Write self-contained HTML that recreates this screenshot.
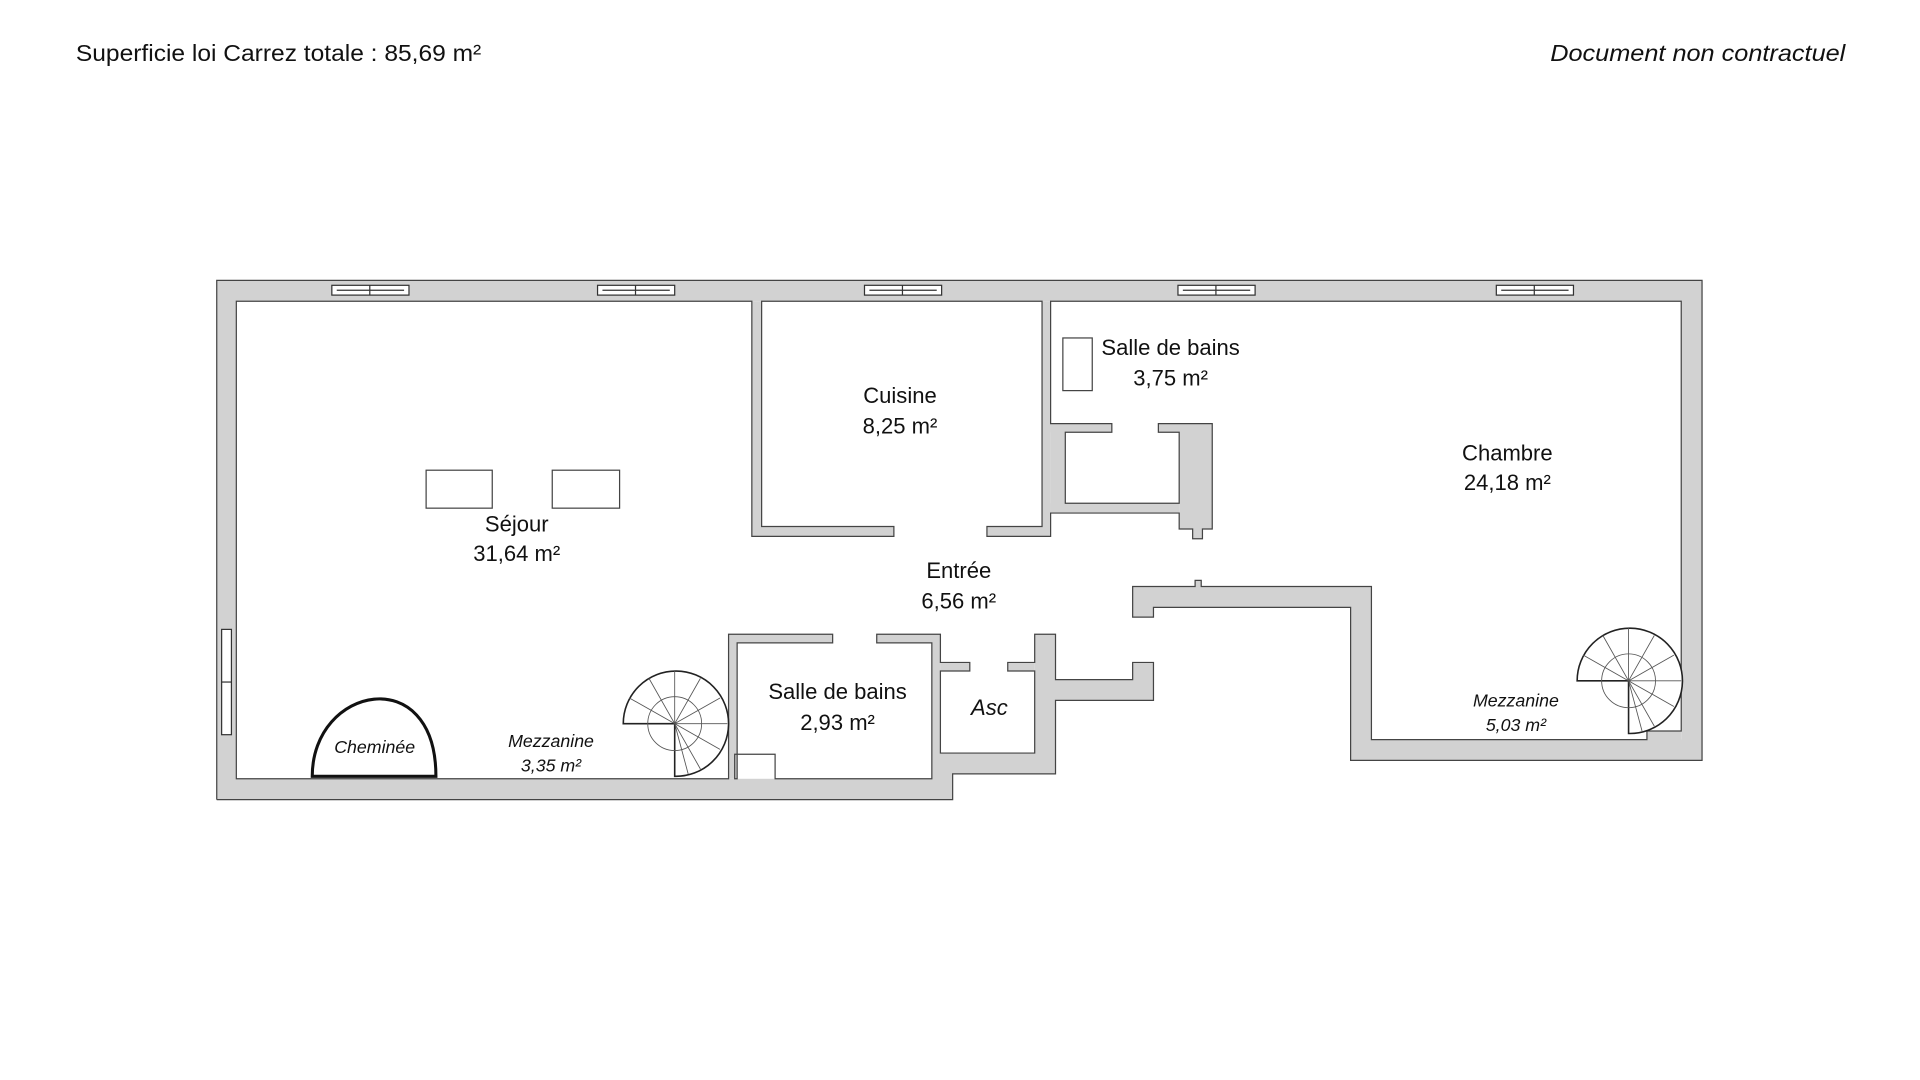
<!DOCTYPE html>
<html><head><meta charset="utf-8"><style>
html,body{margin:0;padding:0;background:#fff;}
svg{display:block;}
text{font-family:"Liberation Sans",sans-serif;fill:#111;}
</style></head><body>
<svg width="1920" height="1080" viewBox="0 0 1568 882" xmlns="http://www.w3.org/2000/svg">
<text x="62" y="50" font-size="19" textLength="331" lengthAdjust="spacingAndGlyphs">Superficie loi Carrez totale : 85,69 m²</text>
<text x="1266" y="50" font-size="19" font-style="italic" textLength="241" lengthAdjust="spacingAndGlyphs">Document non contractuel</text>
<g fill="#d2d2d2" stroke="none">
<rect x="177" y="229" width="1213" height="17"/>
<rect x="177" y="229" width="16" height="424"/>
<rect x="1373" y="229" width="17" height="392"/>
<rect x="177" y="636" width="601" height="17"/>
<rect x="761" y="615" width="101" height="17"/>
<rect x="761" y="615" width="17" height="38"/>
<rect x="845" y="518" width="17" height="114"/>
<rect x="862" y="555" width="80" height="17"/>
<rect x="925" y="541" width="17" height="31"/>
<rect x="768" y="541" width="24" height="7"/>
<rect x="823" y="541" width="22" height="7"/>
<rect x="595" y="518" width="7" height="118"/>
<rect x="595" y="518" width="85" height="7"/>
<rect x="716" y="518" width="52" height="7"/>
<rect x="761" y="518" width="7" height="100"/>
<rect x="614" y="246" width="8" height="192"/>
<rect x="614" y="430" width="116" height="8"/>
<rect x="806" y="430" width="52" height="8"/>
<rect x="851" y="246" width="7" height="192"/>
<rect x="858" y="346" width="50" height="7"/>
<rect x="946" y="346" width="44" height="7"/>
<rect x="858" y="346" width="12" height="73"/>
<rect x="858" y="411" width="105" height="8"/>
<rect x="963" y="346" width="27" height="86"/>
<rect x="974" y="430" width="8" height="10"/>
<rect x="925" y="479" width="195" height="17"/>
<rect x="925" y="479" width="17" height="25"/>
<rect x="976" y="474" width="5" height="6"/>
<rect x="1103" y="479" width="17" height="142"/>
<rect x="1103" y="604" width="287" height="17"/>
<rect x="1345" y="597" width="28" height="8"/>
</g>
<g fill="none" stroke="#444" stroke-width="1">
<polyline points="177,653 778,653 778,632 862,632 862,572 942,572 942,541 925,541 925,555 862,555 862,518 845,518 845,541 823,541 823,548 845,548 845,615 768,615 768,548 792,548 792,541 768,541 768,518 716,518 716,525 761,525 761,636 633,636 633,616 600,616 600,636 602,636 602,525 680,525 680,518 595,518 595,636 193,636 193,246 614,246 614,438 730,438 730,430 622,430 622,246 851,246 851,430 806,430 806,438 858,438 858,419 963,419 963,432 974,432 974,440 982,440 982,432 990,432 990,346 946,346 946,353 963,353 963,411 870,411 870,353 908,353 908,346 858,346 858,246 1373,246 1373,597 1345,597 1345,604 1120,604 1120,479 981,479 981,474 976,474 976,479 925,479 925,504 942,504 942,496 1103,496 1103,621 1390,621 1390,229 177,229 177,653"/>
<rect x="348" y="384" width="54" height="31"/>
<rect x="451" y="384" width="55" height="31"/>
<rect x="868" y="276" width="24" height="43"/>
</g>
<g fill="#fff" stroke="#333" stroke-width="1">
<rect x="271" y="233" width="63" height="8"/><rect x="488" y="233" width="63" height="8"/><rect x="706" y="233" width="63" height="8"/><rect x="962" y="233" width="63" height="8"/><rect x="1222" y="233" width="63" height="8"/>
<rect x="181" y="514" width="8" height="86"/>
</g>
<g stroke="#333" stroke-width="1"><line x1="302" y1="233" x2="302" y2="241"/><line x1="519" y1="233" x2="519" y2="241"/><line x1="737" y1="233" x2="737" y2="241"/><line x1="993" y1="233" x2="993" y2="241"/><line x1="1253" y1="233" x2="1253" y2="241"/><line x1="181" y1="557" x2="189" y2="557"/>
<line x1="275" y1="237" x2="330" y2="237"/><line x1="492" y1="237" x2="547" y2="237"/><line x1="710" y1="237" x2="765" y2="237"/><line x1="966" y1="237" x2="1021" y2="237"/><line x1="1226" y1="237" x2="1281" y2="237"/></g>
<path d="M255,634 C255,560 356,540 356,634 Z" fill="#fff" stroke="#111" stroke-width="2.5"/>
<g fill="#fff" stroke="#222" stroke-width="1.3">
<path d="M551,591 L509,591 A43,43 0 1,1 551,634 Z"/>
<path d="M1330,556 L1288,556 A43,43 0 1,1 1330,599 Z"/>
</g>
<g stroke="#555" stroke-width="0.7" fill="none">
<circle cx="551" cy="591" r="22"/><circle cx="1330" cy="556" r="22"/>
<path d="M551,591 L514,570 M551,591 L530,554 M551,591 L551,548 M551,591 L572,554 M551,591 L588,570 M551,591 L594,591 M551,591 L588,612 M551,591 L572,628 M551,591 L562,632"/>
<path d="M1330,556 L1293,535 M1330,556 L1309,519 M1330,556 L1330,513 M1330,556 L1351,519 M1330,556 L1367,535 M1330,556 L1373,556 M1330,556 L1367,577 M1330,556 L1351,593 M1330,556 L1341,597"/>
</g>
<g font-size="18" text-anchor="middle">
<text x="735" y="329">Cuisine</text><text x="735" y="354">8,25 m²</text>
<text x="956" y="290">Salle de bains</text><text x="956" y="315">3,75 m²</text>
<text x="1231" y="376">Chambre</text><text x="1231" y="400">24,18 m²</text>
<text x="422" y="434">Séjour</text><text x="422" y="458">31,64 m²</text>
<text x="783" y="472">Entrée</text><text x="783" y="497">6,56 m²</text>
<text x="684" y="571">Salle de bains</text><text x="684" y="596">2,93 m²</text>
<text x="808" y="584" font-style="italic">Asc</text>
</g>
<g font-size="14.5" font-style="italic" text-anchor="middle">
<text x="306" y="615">Cheminée</text>
<text x="450" y="610">Mezzanine</text><text x="450" y="630">3,35 m²</text>
<text x="1238" y="577">Mezzanine</text><text x="1238" y="597">5,03 m²</text>
</g>
</svg>
</body></html>
